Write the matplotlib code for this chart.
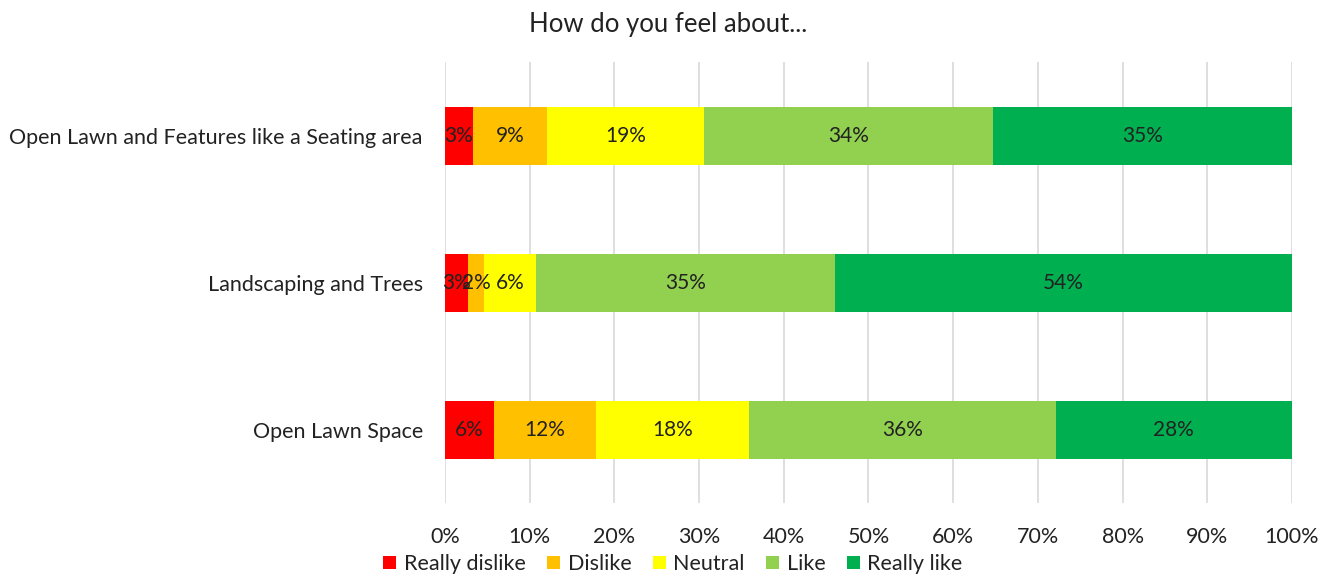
import matplotlib.pyplot as plt
import numpy as np

plt.rcParams['font.family'] = ['Lato', 'DejaVu Sans']

# categories, bottom to top
questions = ["Open Lawn Space", "Landscaping and Trees",
             "Open Lawn and Features like a Seating area"]
responses = ["Really dislike", "Dislike", "Neutral", "Like", "Really like"]
colors = ["#FF0000", "#FFC000", "#FFFF00", "#92D050", "#00B050"]

# shares per question (fractions), same order as questions
really_dislike = [0.058, 0.027, 0.033]
dislike = [0.120, 0.019, 0.087]
neutral = [0.181, 0.062, 0.186]
like = [0.362, 0.353, 0.341]
really_like = [0.279, 0.539, 0.353]

series = [really_dislike, dislike, neutral, like, really_like]

fig = plt.figure(figsize=(13.3, 5.84), dpi=100)
ax = fig.add_axes([0.3346, 0.138, 0.6368, 0.755])

y = np.arange(len(questions))
left = np.zeros(len(questions))
for name, vals, c in zip(responses, series, colors):
    vals = np.array(vals)
    ax.barh(y, vals, left=left, height=0.4, color=c, label=name, zorder=2)
    for yi, (l, v) in enumerate(zip(left, vals)):
        ax.text(l + v / 2, yi, f"{v*100:.0f}%", ha='center', va='center',
                fontsize=15, color='#222222', zorder=3)
    left += vals

ax.set_xlim(0, 1)
ax.set_ylim(-0.5, 2.5)
ax.set_xticks(np.arange(0, 1.01, 0.1))
ax.set_xticklabels([f"{int(round(t*100))}%" for t in np.arange(0, 1.01, 0.1)])
ax.set_yticks(y)
ax.set_yticklabels(questions)
ax.tick_params(length=0, labelsize=15.5, colors='#222222')
ax.tick_params(axis='x', pad=17)
ax.tick_params(axis='y', pad=16)
ax.xaxis.grid(True, color='#D9D9D9', linewidth=1.2, zorder=0)
ax.set_axisbelow(True)
for s in ax.spines.values():
    s.set_visible(False)

fig.suptitle("How do you feel about...", x=0.502, y=0.98, fontsize=18.5,
             color='#222222')
fig.legend(loc='lower center', bbox_to_anchor=(0.506, -0.016), ncol=5,
           frameon=False, fontsize=15.5, handlelength=0.6, handleheight=0.6,
           handletextpad=0.35, columnspacing=1.0, labelcolor='#222222')

fig.savefig("out.png", dpi=100)
